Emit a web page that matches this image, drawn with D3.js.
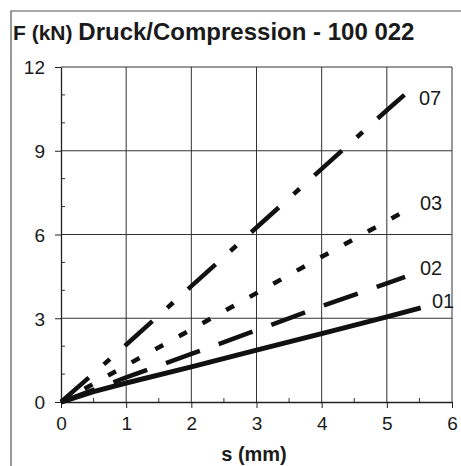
<!DOCTYPE html>
<html>
<head>
<meta charset="utf-8">
<script src="https://cdn.jsdelivr.net/npm/d3@7"></script>
<style>
  body { margin: 0; background: #fff; }
  text { font-family: "Liberation Sans", Arial, sans-serif; fill: #1a1a1a; }
</style>
</head>
<body>
<div id="chart"></div>
<script>
let w = 461;
let h = 466;
let margin = {top: 67, right: 9, bottom: 64, left: 61};

// data
let sTicks = [0, 1, 2, 3, 4, 5, 6];
let fTicks = [0, 3, 6, 9, 12];
let names = ['01', '02', '03', '07'];
let s01 = [0, 0.5, 1, 2, 3, 4, 5, 5.52];
let f01 = [0, 0.37, 0.68, 1.26, 1.86, 2.45, 3.05, 3.37];
let s02 = [0, 1, 2, 3, 4, 5, 5.28];
let f02 = [0, 0.88, 1.72, 2.57, 3.43, 4.25, 4.48];
let s03 = [0, 1, 2, 3, 4, 5, 5.36];
let f03 = [0, 1.31, 2.6, 3.9, 5.2, 6.48, 6.95];
let s07 = [0, 1, 2, 3, 4, 5, 5.27];
let f07 = [0, 2.05, 4.15, 6.25, 8.35, 10.45, 11.0];

let svg = d3.select('#chart').
append('svg').
attr('width', w).
attr('height', h);

let x = d3.scaleLinear().domain([0, 6]).range([margin.left, w - margin.right]);
let y = d3.scaleLinear().domain([0, 12]).range([h - margin.bottom, margin.top]);

// frame (top and left edge only, rest is cut off)
svg.append('path').
attr('d', 'M11,' + h + ' L11,11 L' + w + ',11').
attr('fill', 'none').
attr('stroke', '#555').
attr('stroke-width', 1.2);

// title
let title = svg.append('text').attr('x', 13).attr('y', 40).style('font-weight', 'bold');
title.append('tspan').text('F (kN) ').style('font-size', '21px');
title.append('tspan').text('Druck/Compression - 100 022').
style('font-size', '24px');

// grid
svg.append('g').selectAll('line').
data(sTicks.slice(1)).
join('line').
attr('x1', d => x(d)).attr('x2', d => x(d)).
attr('y1', y(0)).attr('y2', y(12)).
attr('stroke', '#333').attr('stroke-width', 1);

svg.append('g').selectAll('line').
data(fTicks.slice(1)).
join('line').
attr('x1', x(0)).attr('x2', x(6)).
attr('y1', d => y(d)).attr('y2', d => y(d)).
attr('stroke', '#333').attr('stroke-width', 1);

// minor ticks
svg.append('g').selectAll('line').
data(d3.range(1, 12).filter(d => d % 3 != 0)).
join('line').
attr('x1', x(0)).attr('x2', x(0) + 4).
attr('y1', d => y(d)).attr('y2', d => y(d)).
attr('stroke', '#333');

svg.append('g').selectAll('line').
data(d3.range(0.5, 6, 1)).
join('line').
attr('x1', d => x(d)).attr('x2', d => x(d)).
attr('y1', y(0)).attr('y2', y(0) - 4).
attr('stroke', '#333');

// axes
let xAxis = svg.append('g').
attr('transform', 'translate(0,' + y(0) + ')').
call(d3.axisBottom(x).tickValues(sTicks).tickFormat(d3.format('d')).tickSize(6).tickSizeOuter(0).tickPadding(9));

let yAxis = svg.append('g').
attr('transform', 'translate(' + x(0) + ',0)').
call(d3.axisLeft(y).tickValues(fTicks).tickSize(6).tickSizeOuter(0).tickPadding(10));

[xAxis, yAxis].forEach(a => {
  a.select('.domain').attr('stroke', '#222').attr('stroke-width', 1.3);
  a.selectAll('.tick line').attr('stroke', '#222');
  a.selectAll('text').style('font-size', '19px').attr('fill', '#1a1a1a');
});
yAxis.selectAll('text').attr('dy', '0.36em');

svg.append('text').
attr('x', 254).attr('y', 461).
attr('text-anchor', 'middle').
style('font-size', '20px').style('font-weight', 'bold').
text('s (mm)');

// series
let series = [
  {name: '01', s: s01, f: f01, dash: null, width: 5},
  {name: '02', s: s02, f: f02, dash: '36,20', width: 4.5},
  {name: '03', s: s03, f: f03, dash: '9,18', width: 4.5},
  {name: '07', s: s07, f: f07, dash: '37,20,8,20', width: 4.5}];

let line = d3.line().x(d => x(d[0])).y(d => y(d[1]));

svg.append('g').selectAll('path').
data(series).
join('path').
attr('d', d => line(d.s.map((v, i) => [v, d.f[i]]))).
attr('fill', 'none').
attr('stroke', '#111').
attr('stroke-width', d => d.width).
attr('stroke-dasharray', d => d.dash);

// end labels
let labelPos = {'01': [432, 308], '02': [420, 275], '03': [420, 210], '07': [419, 105]};
svg.append('g').selectAll('text').
data(names).
join('text').
attr('x', d => labelPos[d][0]).
attr('y', d => labelPos[d][1]).
style('font-size', '20px').
text(d => d);
</script>
</body>
</html>
